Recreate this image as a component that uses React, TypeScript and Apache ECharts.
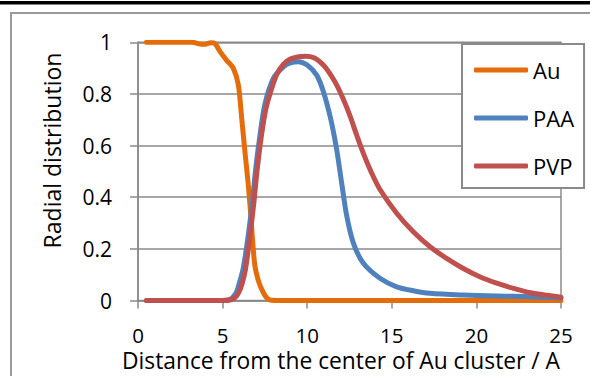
import React, { useEffect, useRef } from 'react';
import * as echarts from 'echarts';

const seriesNames = ['Au', 'PAA', 'PVP'];
const seriesColors = ['#E46C0A', '#4F81BD', '#C0504D'];

const auData: [number, number][] = [
  [0.5, 1], [1, 1], [2, 1], [3.2, 1], [3.6, 0.994], [3.9, 0.992], [4.3, 0.998], [4.55, 0.995],
  [4.85, 0.964], [5.24, 0.93], [5.63, 0.9], [5.93, 0.835], [6.13, 0.705], [6.32, 0.576],
  [6.52, 0.447], [6.68, 0.318], [6.81, 0.2], [6.92, 0.13], [7.1, 0.08], [7.3, 0.045],
  [7.55, 0.015], [7.8, 0.002], [8.5, 0], [10, 0], [12, 0], [15, 0], [18, 0], [21, 0], [25, 0],
];

const paaData: [number, number][] = [
  [0.5, 0], [2, 0], [4, 0], [5, 0], [5.4, 0.003], [5.6, 0.012], [5.83, 0.034], [6.0, 0.07],
  [6.22, 0.125], [6.52, 0.254], [6.76, 0.383], [6.96, 0.512], [7.21, 0.641], [7.5, 0.76],
  [8.0, 0.86], [8.59, 0.905], [9.0, 0.92], [9.47, 0.925], [10.0, 0.912], [10.56, 0.873],
  [10.95, 0.81], [11.4, 0.7], [11.74, 0.585], [12.04, 0.454], [12.33, 0.33], [12.73, 0.222],
  [13.32, 0.144], [14.3, 0.086], [15.29, 0.053], [16.27, 0.038], [17.26, 0.028], [19.2, 0.021],
  [21.2, 0.017], [23.2, 0.015], [25, 0.01],
];

const pvpData: [number, number][] = [
  [0.5, 0], [2, 0], [4, 0], [5, 0], [5.5, 0.003], [5.75, 0.012], [5.95, 0.03], [6.15, 0.065],
  [6.35, 0.12], [6.6, 0.24], [6.85, 0.38], [7.05, 0.51], [7.3, 0.64], [7.55, 0.74], [7.8, 0.8],
  [8.2, 0.875], [8.6, 0.915], [9.0, 0.935], [9.5, 0.944], [9.9, 0.946], [10.4, 0.94],
  [10.95, 0.912], [11.35, 0.878], [11.74, 0.835], [12.13, 0.78], [12.53, 0.715], [12.9, 0.645],
  [13.32, 0.57], [13.8, 0.495], [14.3, 0.43], [15.29, 0.338], [16.27, 0.266], [17.26, 0.208],
  [18.24, 0.163], [19.2, 0.125], [20.2, 0.092], [21.2, 0.067], [22.2, 0.047], [23.2, 0.03],
  [24.15, 0.02], [25, 0.013],
];

const xAxisTitle = 'Distance from the center of Au cluster / A';
const yAxisTitle = 'Radial distribution';

const FONT = 'Open Sans';
const GRID_GRAY = '#8a8a8a';

export default function App() {
  const ref = useRef<HTMLDivElement>(null);
  useEffect(() => {
    document.body.style.margin = '0';
    const chart = echarts.init(ref.current!, null, { renderer: 'svg' });
    const allData = [auData, paaData, pvpData];
    chart.setOption({
      animation: false,
      backgroundColor: '#fff',
      textStyle: { fontFamily: FONT },
      grid: {
        left: 138,
        right: 29,
        top: 42.3,
        bottom: 75.5,
        show: true,
        borderColor: GRID_GRAY,
        borderWidth: 1.5,
        containLabel: false,
      },
      xAxis: {
        type: 'value',
        min: 0,
        max: 25,
        interval: 5,
        axisLine: { show: true, lineStyle: { color: GRID_GRAY, width: 1.5 } },
        axisTick: { show: true, inside: false, length: 8, lineStyle: { color: GRID_GRAY, width: 1.5 } },
        splitLine: { show: false },
        axisLabel: { color: '#000', fontSize: 20.5, lineHeight: 18, fontFamily: FONT, margin: 25 },
      },
      yAxis: {
        type: 'value',
        min: 0,
        max: 1,
        interval: 0.2,
        axisLine: { show: true, lineStyle: { color: GRID_GRAY, width: 1.5 } },
        axisTick: { show: true, inside: false, length: 8, lineStyle: { color: GRID_GRAY, width: 1.5 } },
        splitLine: { show: true, lineStyle: { color: GRID_GRAY, width: 1.5 } },
        axisLabel: { color: '#000', fontSize: 21, fontFamily: FONT, margin: 26 },
      },
      legend: {
        orient: 'vertical',
        left: 462,
        top: 44,
        padding: [15, 10, 11, 12],
        itemWidth: 54,
        itemHeight: 5,
        itemGap: 26,
        icon: 'roundRect',
        backgroundColor: '#fff',
        borderColor: GRID_GRAY,
        borderWidth: 2,
        textStyle: { fontSize: 22, fontFamily: FONT, color: '#000' },
        data: seriesNames,
      },
      graphic: [
        {
          type: 'rect',
          z: -10,
          shape: { x: 0, y: 1, width: 590, height: 3.4 },
          style: { fill: '#000' },
        },
        {
          type: 'rect',
          z: -10,
          shape: { x: 11, y: 13, width: 700, height: 500 },
          style: { fill: 'none', stroke: '#9a9a9a', lineWidth: 2 },
        },
        {
          type: 'text',
          x: 341,
          y: 360,
          style: {
            text: xAxisTitle,
            fontSize: 22.8,
            lineHeight: 18,
            fontFamily: FONT,
            fill: '#000',
            align: 'center',
            verticalAlign: 'middle',
          },
        },
        {
          type: 'text',
          x: 52,
          y: 150.5,
          rotation: Math.PI / 2,
          style: {
            text: yAxisTitle,
            fontSize: 23,
            fontFamily: FONT,
            fill: '#000',
            align: 'center',
            verticalAlign: 'middle',
          },
        },
      ],
      series: seriesNames.map((name, i) => ({
        name,
        type: 'line',
        data: allData[i],
        showSymbol: false,
        symbol: 'none',
        smooth: 0.3,
        color: seriesColors[i],
        lineStyle: { color: seriesColors[i], width: 5, cap: 'round', join: 'round' },
        z: 2 + i,
      })),
    });
    return () => chart.dispose();
  }, []);
  return <div ref={ref} style={{ width: 590, height: 376 }} />;
}
